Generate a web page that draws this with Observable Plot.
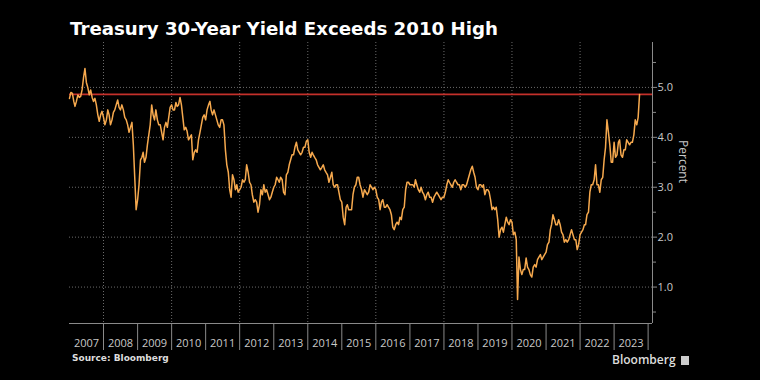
<!DOCTYPE html>
<html>
<head>
<meta charset="utf-8">
<script src="https://cdn.jsdelivr.net/npm/d3@7"></script>
<script src="https://cdn.jsdelivr.net/npm/@observablehq/plot@0.6"></script>
<style>
  html, body { margin: 0; padding: 0; background: #000; }
  #wrap { position: relative; width: 760px; height: 380px; overflow: hidden; background: #000; }
  #title { position: absolute; left: 70px; top: 20px; font: bold 18.2px/18px "DejaVu Sans", sans-serif; color: #fff; white-space: nowrap; }
  #source { position: absolute; left: 72px; top: 354px; font: bold 9px/9px "DejaVu Sans", sans-serif; color: #ddd; white-space: nowrap; }
  #logo { position: absolute; left: 612px; top: 354px; font: 600 12px/12px "Open Sans", sans-serif; color: #ddd; white-space: nowrap; }
  #logo span { display: inline-block; width: 8px; height: 9px; background: #ccc; margin-left: 5px; vertical-align: -1px; }
  #chart { position: absolute; left: 0; top: 0; }
</style>
</head>
<body>
<div id="wrap">
  <div id="chart"></div>
  <div id="title">Treasury 30-Year Yield Exceeds 2010 High</div>
  <div id="source">Source: Bloomberg</div>
  <div id="logo">Bloomberg<span></span></div>
</div>
<script>
// Semi-monthly readings (1st and 16th of each month), percent
const y2007 = [4.78,4.90, 4.88,4.72, 4.62,4.72, 4.85,4.80, 4.82,4.95, 5.20,5.38, 5.10,5.00, 4.85,4.95, 4.80,4.72, 4.78,4.65, 4.45,4.32, 4.45,4.52];
const y2008 = [4.40,4.25, 4.35,4.55, 4.45,4.25, 4.35,4.50, 4.55,4.65, 4.75,4.60, 4.55,4.65, 4.55,4.40, 4.35,4.25, 4.10,4.20, 4.30,3.85, 3.20,2.55];
const y2009 = [2.75,3.05, 3.55,3.60, 3.70,3.50, 3.60,3.85, 4.05,4.25, 4.65,4.45, 4.35,4.55, 4.35,4.25, 4.25,4.10, 3.95,4.20, 4.30,4.20, 4.40,4.60];
const y2010 = [4.65,4.55, 4.55,4.70, 4.62,4.65, 4.80,4.65, 4.40,4.15, 4.20,4.12, 3.95,4.00, 4.05,3.55, 3.70,3.75, 3.70,3.95, 4.10,4.25, 4.40,4.45];
const y2011 = [4.35,4.55, 4.65,4.72, 4.55,4.45, 4.55,4.45, 4.35,4.25, 4.20,4.35, 4.35,4.25, 3.75,3.45, 3.30,2.95, 2.80,3.25, 3.15,2.95, 3.05,2.90];
const y2012 = [2.95,3.00, 3.15,3.10, 3.15,3.45, 3.30,3.10, 3.05,2.85, 2.70,2.75, 2.70,2.50, 2.65,2.95, 2.85,3.05, 2.90,2.95, 2.85,2.75, 2.80,2.90];
const y2013 = [3.00,3.05, 3.20,3.15, 3.10,3.20, 3.15,2.90, 2.85,3.25, 3.30,3.45, 3.55,3.65, 3.65,3.80, 3.90,3.75, 3.70,3.65, 3.70,3.80, 3.80,3.92];
const y2014 = [3.95,3.70, 3.60,3.70, 3.65,3.60, 3.55,3.45, 3.40,3.35, 3.40,3.45, 3.35,3.30, 3.25,3.10, 3.20,3.30, 3.05,3.00, 3.05,3.05, 2.90,2.75];
const y2015 = [2.70,2.40, 2.25,2.60, 2.65,2.55, 2.55,2.55, 2.85,3.00, 3.05,3.20, 3.20,3.05, 2.95,2.80, 2.95,2.90, 2.85,2.90, 3.05,3.00, 2.95,3.00];
const y2016 = [2.95,2.80, 2.75,2.55, 2.70,2.75, 2.60,2.60, 2.65,2.60, 2.55,2.45, 2.20,2.15, 2.25,2.30, 2.25,2.40, 2.35,2.55, 2.60,2.95, 3.10,3.10];
const y2017 = [3.05,3.05, 3.05,3.00, 3.15,3.05, 2.95,2.90, 3.00,2.90, 2.85,2.75, 2.85,2.90, 2.80,2.80, 2.70,2.80, 2.85,2.90, 2.85,2.80, 2.75,2.80];
const y2018 = [2.80,2.90, 3.05,3.15, 3.10,3.05, 3.00,3.10, 3.15,3.10, 3.05,3.05, 2.95,3.05, 3.05,3.00, 3.05,3.15, 3.25,3.35, 3.42,3.30, 3.20,3.00];
const y2019 = [2.95,3.05, 3.05,3.00, 3.05,2.85, 2.95,2.95, 2.90,2.75, 2.55,2.60, 2.55,2.60, 2.35,2.00, 2.15,2.20, 2.10,2.25, 2.40,2.30, 2.25,2.35];
const y2020 = [2.30,2.05, 2.10,1.95, 0.75,1.60, 1.35,1.25, 1.35,1.35, 1.58,1.40, 1.35,1.25, 1.20,1.40, 1.45,1.40, 1.55,1.60, 1.65,1.55, 1.60,1.65];
const y2021 = [1.70,1.85, 1.90,2.15, 2.25,2.45, 2.35,2.25, 2.25,2.35, 2.25,2.10, 2.05,1.90, 1.95,1.90, 1.95,2.05, 2.15,2.05, 1.95,1.95, 1.75,1.85];
const y2022 = [2.05,2.10, 2.15,2.25, 2.25,2.45, 2.50,2.90, 3.05,3.05, 3.15,3.45, 3.05,3.05, 2.90,3.15, 3.20,3.55, 3.80,4.35, 4.10,3.85, 3.50,3.50];
const y2023 = [3.90,3.60, 3.65,3.90, 3.95,3.65, 3.60,3.75, 3.75,3.95, 3.90,3.85, 3.90,3.90, 4.05,4.35, 4.25,4.40, 4.86];

const years = [2007,2008,2009,2010,2011,2012,2013,2014,2015,2016,2017,2018,2019,2020,2021,2022,2023];
const series = [y2007,y2008,y2009,y2010,y2011,y2012,y2013,y2014,y2015,y2016,y2017,y2018,y2019,y2020,y2021,y2022,y2023];

const high2010 = 4.86;
const yTicks = [1, 2, 3, 4, 5];
const yMinorTicks = [0.5, 1.5, 2.5, 3.5, 4.5, 5.5];
const yearLabels = ["2007","2008","2009","2010","2011","2012","2013","2014","2015","2016","2017","2018","2019","2020","2021","2022","2023"];
const yLabel = "Percent";

const data = [];
years.forEach((yr, k) => series[k].forEach((v, i) => {
  data.push({date: new Date(Date.UTC(yr, Math.floor(i / 2), i % 2 ? 16 : 1)), value: v});
}));

const yearStarts = d3.range(2008, 2025).map(y => new Date(Date.UTC(y, 0, 1)));
const gridYears = d3.range(2008, 2024, 2).map(y => new Date(Date.UTC(y, 0, 1)));
const midYears = yearLabels.map(s => new Date(Date.UTC(+s, 6, 2)));
const xMin = new Date(Date.UTC(2007, 0, 1));
const xMax = new Date(Date.UTC(2024, 1, 17));
const yMin = 0.27, yMax = 5.9;

const chart = Plot.plot({
  width: 760,
  height: 380,
  marginTop: 42,
  marginBottom: 57,
  marginLeft: 69,
  marginRight: 108,
  style: {background: "transparent", color: "#c8c8c8", fontFamily: "'Open Sans', sans-serif", fontSize: "11px"},
  x: {type: "utc", domain: [xMin, xMax]},
  y: {domain: [yMin, yMax]},
  marks: [
    Plot.gridX(gridYears, {stroke: "#777", strokeOpacity: 0.9, strokeDasharray: "1,2"}),
    Plot.gridY(yTicks, {stroke: "#777", strokeOpacity: 0.9, strokeDasharray: "1,2"}),
    Plot.ruleY([high2010], {stroke: "#c4302b", strokeWidth: 1.6}),
    Plot.line(data, {x: "date", y: "value", stroke: "#f6a94e", strokeWidth: 1.5}),
    Plot.ruleY([yMin], {stroke: "#8a8a8a"}),
    Plot.ruleX([xMax], {stroke: "#8a8a8a"}),
    Plot.axisX(yearStarts, {tickSize: 27, tickFormat: () => "", stroke: "#8a8a8a", label: null}),
    Plot.axisX(midYears, {tickSize: 0, tickPadding: 16, tickFormat: d => yearLabels[d.getUTCFullYear() - 2007], fill: "#c8c8c8", label: null}),
    Plot.axisY(yTicks, {anchor: "right", tickSize: 4, tickPadding: 1, tickFormat: d => d.toFixed(1), stroke: "#8a8a8a", fill: "#c8c8c8", label: null}),
    Plot.axisY(yMinorTicks, {anchor: "right", tickSize: 3, tickFormat: () => "", stroke: "#8a8a8a", label: null}),
    Plot.text([yLabel], {frameAnchor: "right", dx: 30, rotate: 90, fontSize: 12, fill: "#c8c8c8"})
  ]
});
document.getElementById("chart").appendChild(chart);
</script>
</body>
</html>
